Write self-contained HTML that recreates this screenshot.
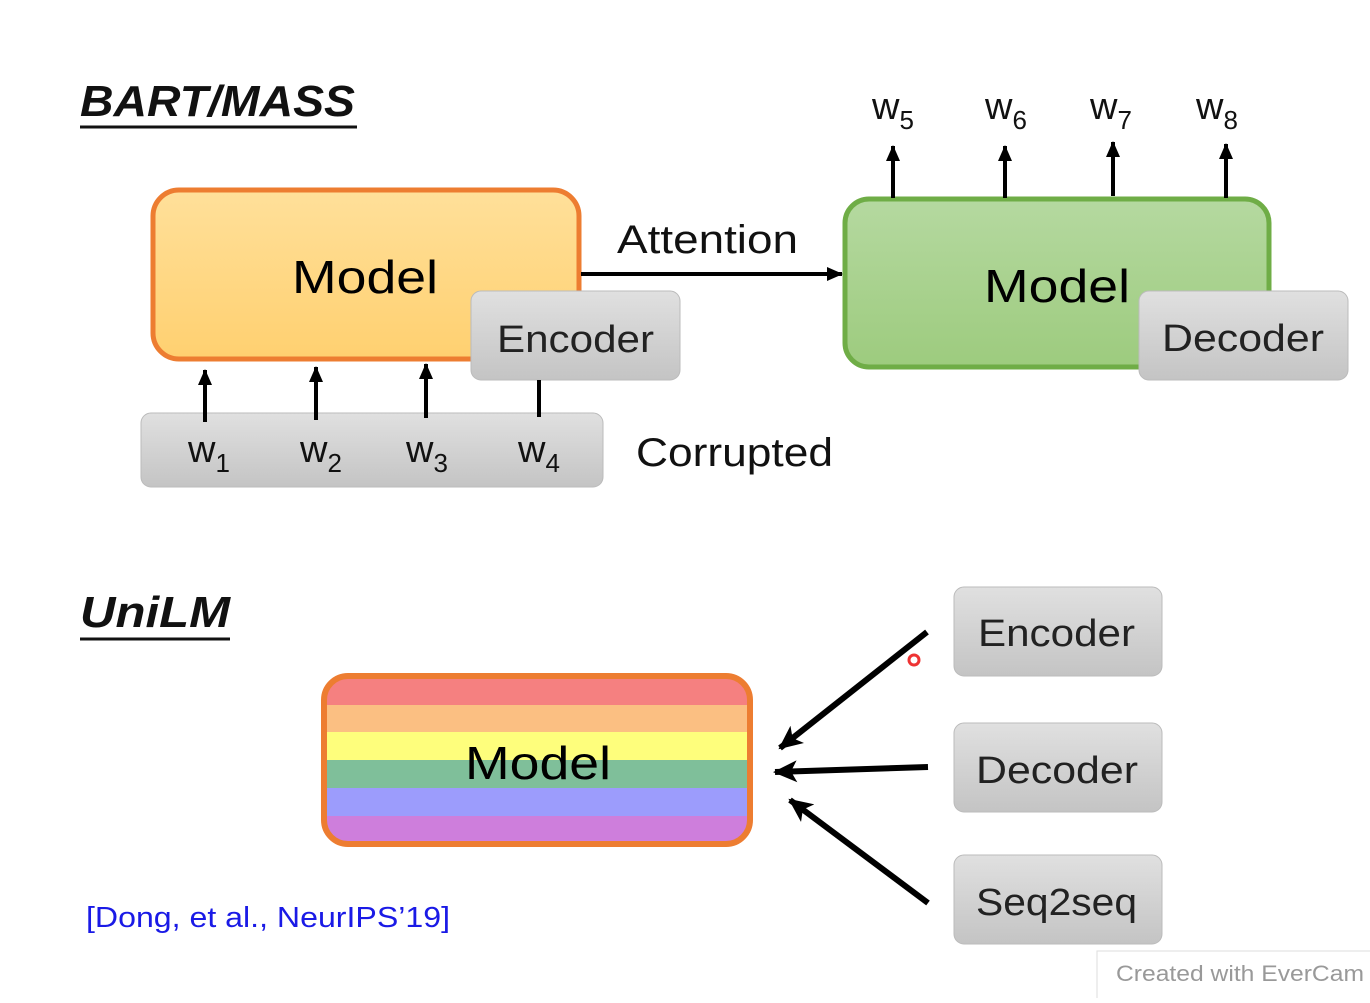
<!DOCTYPE html>
<html><head><style>
body{margin:0;background:#fff;width:1370px;height:998px;overflow:hidden}
svg text{font-family:"Liberation Sans","DejaVu Sans",sans-serif}
</style></head><body>
<svg width="1370" height="998" xmlns="http://www.w3.org/2000/svg">
<defs>
<linearGradient id="og" x1="0" y1="0" x2="0" y2="1"><stop offset="0" stop-color="#FFE09A"/><stop offset="1" stop-color="#FFD070"/></linearGradient>
<linearGradient id="gg" x1="0" y1="0" x2="0" y2="1"><stop offset="0" stop-color="#B5D9A0"/><stop offset="1" stop-color="#9DCB7E"/></linearGradient>
<linearGradient id="gr" x1="0" y1="0" x2="0" y2="1"><stop offset="0" stop-color="#E0E0E0"/><stop offset="1" stop-color="#C4C4C4"/></linearGradient>
<marker id="ah" markerWidth="16" markerHeight="14" refX="15" refY="7" orient="auto" markerUnits="userSpaceOnUse"><path d="M0,0 L16,7 L0,14 z" fill="#000"/></marker>
<marker id="ab" markerWidth="24" markerHeight="22" refX="22" refY="11" orient="auto" markerUnits="userSpaceOnUse"><path d="M0,0 L24,11 L0,22 L6,11 z" fill="#000"/></marker>
<clipPath id="rc"><rect x="326" y="678" width="422" height="164" rx="22"/></clipPath>
</defs>
<text x="80" y="116" font-size="44" font-weight="bold" font-style="italic" fill="#111" textLength="275" lengthAdjust="spacingAndGlyphs">BART/MASS</text>
<line x1="80" y1="127" x2="357" y2="127" stroke="#111" stroke-width="3"/>
<rect x="153" y="190" width="426" height="169" rx="26" fill="url(#og)" stroke="#ED7D31" stroke-width="5"/>
<text x="292" y="293" font-size="46" textLength="146" lengthAdjust="spacingAndGlyphs">Model</text>
<rect x="471" y="291" width="209" height="89" rx="10" fill="url(#gr)" stroke="#bbb"/>
<text x="497" y="352" font-size="38" fill="#222" textLength="157" lengthAdjust="spacingAndGlyphs">Encoder</text>
<rect x="141" y="413" width="462" height="74" rx="10" fill="url(#gr)" stroke="#bbb"/>
<g font-size="38" fill="#111"><text x="188" y="462">w<tspan font-size="26" dy="10">1</tspan></text>
<text x="300" y="462">w<tspan font-size="26" dy="10">2</tspan></text>
<text x="406" y="462">w<tspan font-size="26" dy="10">3</tspan></text>
<text x="518" y="462">w<tspan font-size="26" dy="10">4</tspan></text></g>
<g stroke="#000" stroke-width="4" marker-end="url(#ah)"><line x1="205" y1="422" x2="205" y2="370"/><line x1="316" y1="420" x2="316" y2="367"/><line x1="426" y1="418" x2="426" y2="364"/></g>
<line x1="539" y1="380" x2="539" y2="417" stroke="#000" stroke-width="4"/>
<text x="636" y="466" font-size="40" fill="#111" textLength="197" lengthAdjust="spacingAndGlyphs">Corrupted</text>
<text x="617" y="253" font-size="40" fill="#111" textLength="181" lengthAdjust="spacingAndGlyphs">Attention</text>
<line x1="581" y1="274" x2="842" y2="274" stroke="#000" stroke-width="4" marker-end="url(#ah)"/>
<rect x="845" y="199" width="424" height="168" rx="24" fill="url(#gg)" stroke="#6FAD46" stroke-width="5"/>
<text x="984" y="302" font-size="46" textLength="146" lengthAdjust="spacingAndGlyphs">Model</text>
<rect x="1139" y="291" width="209" height="89" rx="10" fill="url(#gr)" stroke="#bbb"/>
<text x="1162" y="351" font-size="38" fill="#222" textLength="162" lengthAdjust="spacingAndGlyphs">Decoder</text>
<g font-size="38" fill="#111"><text x="872" y="119">w<tspan font-size="26" dy="10">5</tspan></text>
<text x="985" y="119">w<tspan font-size="26" dy="10">6</tspan></text>
<text x="1090" y="119">w<tspan font-size="26" dy="10">7</tspan></text>
<text x="1196" y="119">w<tspan font-size="26" dy="10">8</tspan></text></g>
<g stroke="#000" stroke-width="4" marker-end="url(#ah)"><line x1="893" y1="198" x2="893" y2="146"/><line x1="1005" y1="198" x2="1005" y2="146"/><line x1="1113" y1="196" x2="1113" y2="142"/><line x1="1226" y1="198" x2="1226" y2="144"/></g>
<text x="80" y="627" font-size="44" font-weight="bold" font-style="italic" fill="#111" textLength="150" lengthAdjust="spacingAndGlyphs">UniLM</text>
<line x1="80" y1="639" x2="230" y2="639" stroke="#111" stroke-width="3"/>
<g clip-path="url(#rc)">
<rect x="320" y="670" width="440" height="35" fill="#F58080"/>
<rect x="320" y="705" width="440" height="27" fill="#FBBF82"/>
<rect x="320" y="732" width="440" height="28" fill="#FEFE7C"/>
<rect x="320" y="760" width="440" height="28" fill="#7FBF9A"/>
<rect x="320" y="788" width="440" height="28" fill="#9C9CFC"/>
<rect x="320" y="816" width="440" height="30" fill="#CE7EDC"/>
</g>
<rect x="324" y="676" width="426" height="168" rx="24" fill="none" stroke="#ED7D31" stroke-width="6"/>
<text x="465" y="779" font-size="46" textLength="146" lengthAdjust="spacingAndGlyphs">Model</text>
<g stroke="#000" stroke-width="6" marker-end="url(#ab)"><line x1="927" y1="632" x2="780" y2="748"/><line x1="928" y1="767" x2="775" y2="772"/><line x1="928" y1="903" x2="790" y2="800"/></g>
<circle cx="914" cy="660" r="5" fill="none" stroke="#e33" stroke-width="3"/>
<rect x="954" y="587" width="208" height="89" rx="10" fill="url(#gr)" stroke="#bbb"/>
<text x="978" y="646" font-size="38" fill="#222" textLength="157" lengthAdjust="spacingAndGlyphs">Encoder</text>
<rect x="954" y="723" width="208" height="89" rx="10" fill="url(#gr)" stroke="#bbb"/>
<text x="976" y="783" font-size="38" fill="#222" textLength="162" lengthAdjust="spacingAndGlyphs">Decoder</text>
<rect x="954" y="855" width="208" height="89" rx="10" fill="url(#gr)" stroke="#bbb"/>
<text x="976" y="915" font-size="38" fill="#222" textLength="161" lengthAdjust="spacingAndGlyphs">Seq2seq</text>
<text x="86" y="927" font-size="29" fill="#1A1AE6" textLength="364" lengthAdjust="spacingAndGlyphs">[Dong, et al., NeurIPS’19]</text>
<rect x="1097" y="951" width="280" height="60" fill="#fff" stroke="#ddd"/>
<text x="1116" y="981" font-size="22" fill="#999" textLength="248" lengthAdjust="spacingAndGlyphs">Created  with  EverCam</text>
</svg>
</body></html>
